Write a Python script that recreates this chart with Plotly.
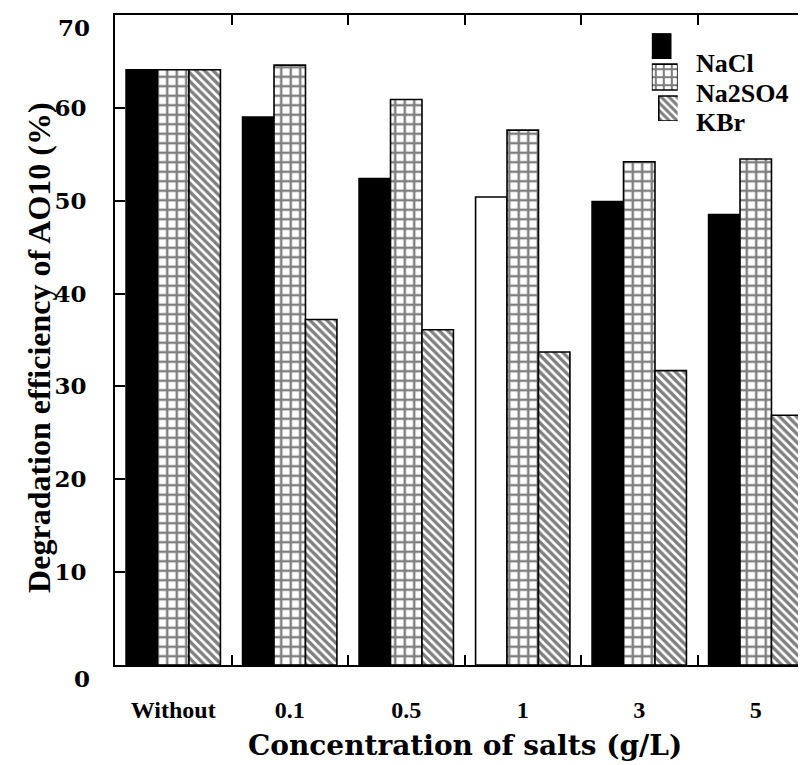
import plotly.graph_objects as go

categories = ["Without", "0.1", "0.5", "1", "3", "5"]
series_names = ["NaCl", "Na2SO4", "KBr"]
nacl = [64.1, 59.0, 52.4, 50.4, 49.9, 48.5]
na2so4 = [64.1, 64.6, 60.9, 57.6, 54.2, 54.5]
kbr = [64.1, 37.2, 36.1, 33.7, 31.7, 26.9]
nacl_colors = ["black", "black", "black", "white", "black", "black"]
y_ticks = [0, 10, 20, 30, 40, 50, 60, 70]
y_ticktext = ["", "10", "20", "30", "40", "50", "60", ""]
x_title = "Concentration of salts (g/L)"
y_title = "Degradation efficiency of AO10 (%)"

FONT = "Liberation Serif"
line = dict(color="black", width=1.6)

grid_pat = dict(shape="+", size=9.5, solidity=0.45, fgcolor="black", bgcolor="white", fillmode="overlay")
hatch_pat = dict(shape="\\", size=6, solidity=0.55, fgcolor="black", bgcolor="white", fillmode="overlay")

fig = go.Figure()
fig.add_trace(go.Bar(x=categories, y=nacl, name=series_names[0],
                     marker=dict(color=nacl_colors, line=line), showlegend=False))
fig.add_trace(go.Bar(x=categories, y=na2so4, name=series_names[1],
                     marker=dict(color="white", line=line, pattern=grid_pat), showlegend=False))
fig.add_trace(go.Bar(x=categories, y=kbr, name=series_names[2],
                     marker=dict(color="white", line=line, pattern=hatch_pat), showlegend=False))

# custom legend swatches (drawn on an auxiliary axis pair)
leg_base = [63, 31, 0]
leg_h = [25, 26, 25]
leg_markers = [
    dict(color="black", line=line),
    dict(color="white", line=line, pattern=dict(shape="+", size=8, solidity=0.45, fgcolor="black", bgcolor="white", fillmode="overlay")),
    dict(color="white", line=line, pattern=dict(shape="\\", size=5.5, solidity=0.55, fgcolor="black", bgcolor="white", fillmode="overlay")),
]
for i in range(3):
    fig.add_trace(go.Bar(x=[0], y=[leg_h[i]], base=[leg_base[i]], width=[1],
                         marker=leg_markers[i], xaxis="x2", yaxis="y2",
                         showlegend=False, hoverinfo="skip"))
leg_text_y = [0.926, 0.880, 0.834]
for i, nm in enumerate(series_names):
    fig.add_annotation(text=nm, x=0.829, y=leg_text_y[i], xref="paper", yref="paper",
                       xanchor="left", yanchor="middle", showarrow=False,
                       font=dict(family=FONT, size=26, color="black", weight="bold"))

# end tick labels of the y axis sit a little below their ticks in the reference
tick_font = dict(family="DejaVu Serif", size=23, color="black", weight="bold")
for val, ypos in [(y_ticks[0], -0.02), (y_ticks[-1], 0.9815)]:
    fig.add_annotation(text=str(val), x=-0.033, y=ypos, xref="paper", yref="paper",
                       xanchor="right", yanchor="middle", showarrow=False, font=tick_font)

# axis titles
fig.add_annotation(text=x_title, x=0.5, y=-0.1523, xref="paper", yref="paper",
                   xanchor="center", yanchor="bottom", showarrow=False,
                   font=dict(family="DejaVu Serif", size=28, color="black", weight="bold"))
fig.add_annotation(text=y_title, x=-0.080, y=0.488, xref="paper", yref="paper",
                   xanchor="right", yanchor="middle", showarrow=False, textangle=-90,
                   font=dict(family=FONT, size=32, color="black", weight="bold"))

fig.update_layout(
    width=806, height=765,
    margin=dict(l=107, r=0, t=7, b=108),
    plot_bgcolor="white", paper_bgcolor="white",
    barmode="group", bargap=0.19, bargroupgap=0,
    xaxis=dict(range=[-0.5, 5.5], showline=True, linecolor="black", linewidth=1.6,
               mirror="ticks", ticks="inside", ticklen=10, tickwidth=1.6, tickcolor="black",
               tickson="boundaries", showgrid=False, ticklabelstandoff=22, automargin=False,
               tickfont=dict(family=FONT, size=24, color="black", weight="bold")),
    yaxis=dict(range=[0, 70], tickvals=y_ticks, ticktext=y_ticktext, showline=True,
               linecolor="black", linewidth=1.6,
               mirror="ticks", ticks="inside", ticklen=10, tickwidth=1.6, tickcolor="black", showgrid=False,
               zeroline=False, ticklabelstandoff=22, automargin=False, ticklabeloverflow="allow",
               tickfont=tick_font),
    xaxis2=dict(domain=[0.768, 0.805], range=[-0.5, 0.5], anchor="y2", visible=False, fixedrange=True),
    yaxis2=dict(domain=[0.837, 0.972], range=[0, 88], anchor="x2", visible=False, fixedrange=True),
)

fig.write_html("out.html")
